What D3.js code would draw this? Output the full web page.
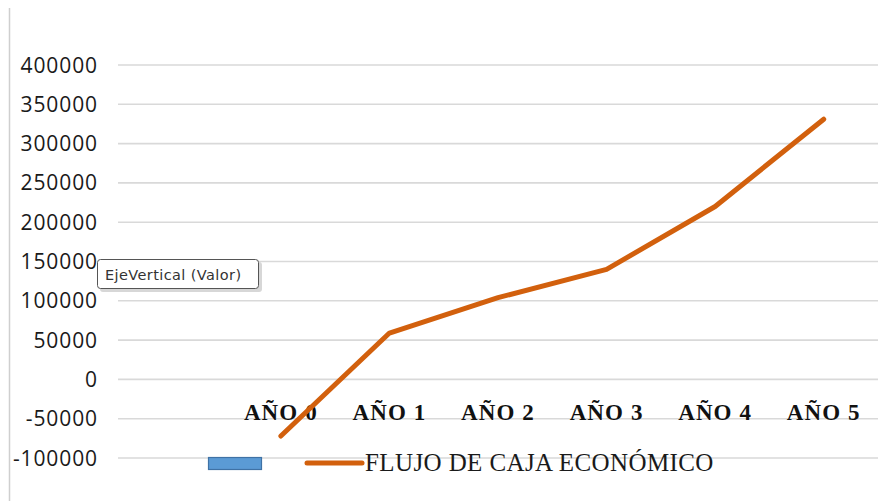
<!DOCTYPE html>
<html>
  <head>
    <meta charset="utf-8">
    <title>Flujo de caja económico</title>
    <script src="https://cdn.jsdelivr.net/npm/d3@7"></script>
    <style>
    html,
    body {
        margin: 0;
        padding: 0;
        background: #fff;
    }
    .grid line {
        stroke: #d9d9d9;
        stroke-width: 1.6px;
    }
    .ytick {
        font-family: 'Open Sans', sans-serif;
        font-size: 21px;
        fill: #1a1a1a;
        text-anchor: end;
        letter-spacing: 0.9px;
    }
    .xtick {
        font-family: 'Liberation Serif', serif;
        font-weight: bold;
        font-size: 23px;
        fill: #111;
        text-anchor: middle;
        letter-spacing: 1.1px;
    }
    .legend {
        font-family: 'Liberation Serif', serif;
        font-size: 25px;
        fill: #1a1a1a;
        letter-spacing: 0.4px;
    }
    .tip {
        font-family: 'DejaVu Sans', sans-serif;
        font-size: 14.5px;
        fill: #333;
        letter-spacing: 0.4px;
    }
    </style>
  </head>

  <body>
    <div id='vis'></div>
    <script>

      // first slot is empty (the bar series has no visible values)
      var categories = ['', 'AÑO 0', 'AÑO 1', 'AÑO 2', 'AÑO 3', 'AÑO 4', 'AÑO 5'];
      var flujo = [null, -72000, 59000, 104000, 140000, 220000, 331000];
      var yTicks = [400000, 350000, 300000, 250000, 200000, 150000, 100000, 50000, 0, -50000, -100000];
      var seriesName = 'FLUJO DE CAJA ECONÓMICO';

      var width = 893;
      var height = 501;

      var svg = d3.select('#vis')
          .append('svg')
          .attr('width', width)
          .attr('height', height);

      var x = d3.scaleBand().domain(categories).range([118, 878]);
      var y = d3.scaleLinear().domain([-100000, 400000]).range([458, 65]);

      // left border
      svg.append('line')
          .attr('x1', 9.5).attr('x2', 9.5)
          .attr('y1', 8).attr('y2', height)
          .attr('stroke', '#cfcfcf')
          .attr('stroke-width', 1.5);

      // gridlines
      svg.append('g')
          .attr('class', 'grid')
          .selectAll('line')
          .data(yTicks)
          .enter()
          .append('line')
          .attr('x1', x.range()[0])
          .attr('x2', x.range()[1])
          .attr('y1', function(d) { return y(d); })
          .attr('y2', function(d) { return y(d); });

      // y labels
      svg.selectAll('text.ytick')
          .data(yTicks)
          .enter()
          .append('text')
          .attr('class', 'ytick')
          .attr('x', 98)
          .attr('y', function(d) { return y(d); })
          .attr('dy', '0.36em')
          .text(function(d) { return d; });

      // category labels
      svg.selectAll('text.xtick')
          .data(categories.filter(function(c) { return c !== ''; }))
          .enter()
          .append('text')
          .attr('class', 'xtick')
          .attr('x', function(d) { return x(d) + x.bandwidth() / 2; })
          .attr('y', y(-50000) + 1)
          .text(function(d) { return d; });

      // line series
      var line = d3.line()
          .defined(function(d) { return d !== null; })
          .x(function(d, i) { return x(categories[i]) + x.bandwidth() / 2; })
          .y(function(d) { return y(d); });

      svg.append('path')
          .datum(flujo)
          .attr('d', line)
          .attr('fill', 'none')
          .attr('stroke', '#d2600d')
          .attr('stroke-width', 5)
          .attr('stroke-linecap', 'round')
          .attr('stroke-linejoin', 'round');

      // legend
      var lg = svg.append('g');
      lg.append('rect')
          .attr('x', 208.5).attr('y', 457.5)
          .attr('width', 53).attr('height', 12)
          .attr('fill', '#5b9bd5')
          .attr('stroke', '#3f72a5')
          .attr('stroke-width', 1.2);
      lg.append('line')
          .attr('x1', 307).attr('x2', 362)
          .attr('y1', 463).attr('y2', 463)
          .attr('stroke', '#d2600d')
          .attr('stroke-width', 5)
          .attr('stroke-linecap', 'round');
      lg.append('text')
          .attr('class', 'legend')
          .attr('x', 365)
          .attr('y', 471)
          .text(seriesName);

      // tooltip box
      var tip = svg.append('g');
      tip.append('rect')
          .attr('x', 100).attr('y', 262)
          .attr('width', 162).attr('height', 30)
          .attr('rx', 3)
          .attr('fill', '#bdbdbd')
          .attr('opacity', 0.6);
      tip.append('rect')
          .attr('x', 97.5).attr('y', 259.5)
          .attr('width', 161).attr('height', 29)
          .attr('rx', 3)
          .attr('fill', '#fff')
          .attr('stroke', '#555')
          .attr('stroke-width', 1);
      tip.append('text')
          .attr('class', 'tip')
          .attr('x', 105)
          .attr('y', 280)
          .text('EjeVertical (Valor)');

    </script>
  </body>
</html>
